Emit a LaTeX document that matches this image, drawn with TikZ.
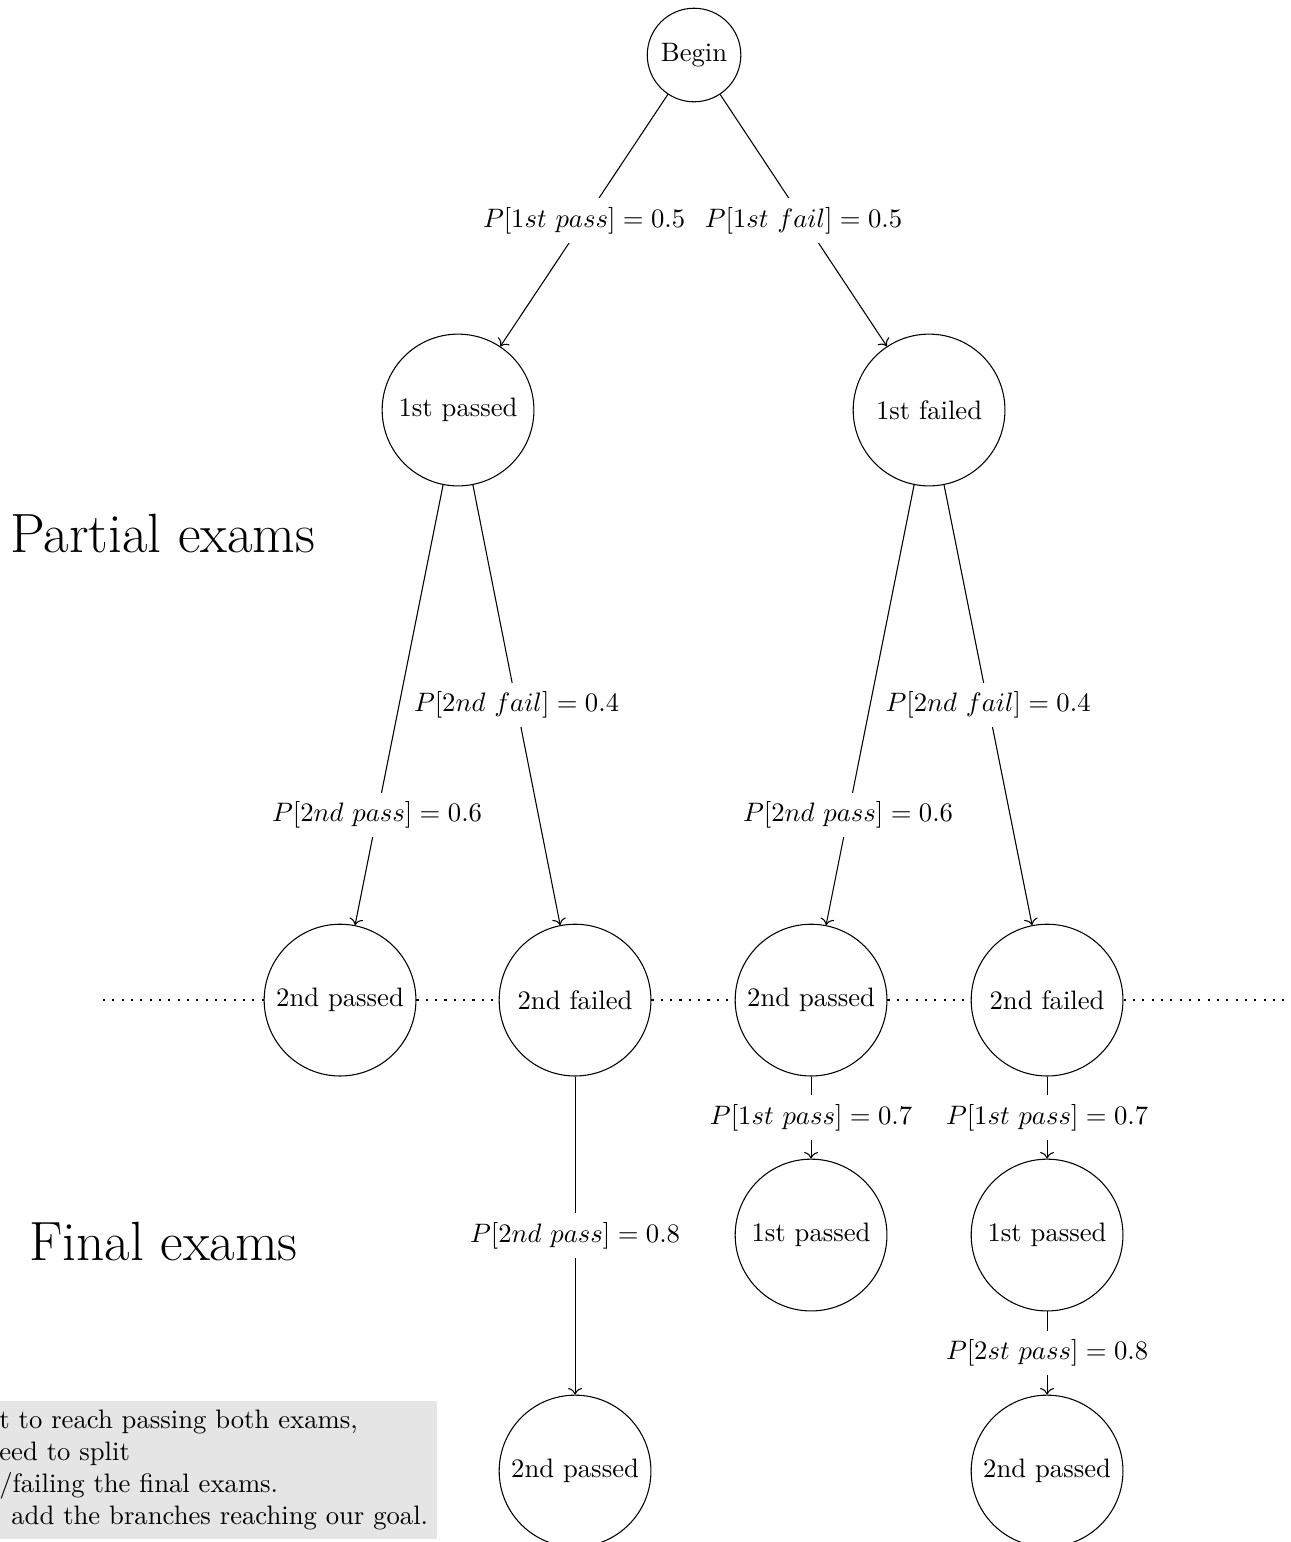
\documentclass[tikz,border=0pt]{standalone}
\usepackage{tikz}
\usetikzlibrary{arrows.meta,positioning}
\tikzset{
  stnode/.style  = {draw, circle, minimum size=2cm},
  begnode/.style = {draw, circle},
  probl/.style   = {fill=white},
  sig/.style     = {-{To}},
  bigtext/.style = {font=\huge},
  notebox/.style = {fill=gray!20, align=left, anchor=west},
  border/.style  = {line width=0.8pt, dash pattern=on 0.8pt off 2.7pt},
}

\begin{document}
\begin{tikzpicture}[x=1cm,y=1cm]
\useasboundingbox (0,0) rectangle (17,-20.32);
% partial exams
\node[begnode] (beg) at (9.146,-0.725) {Begin};
\node[stnode] (p1) at (6.036,-5.403) {1st passed};
\node[stnode] (f1) at (12.243,-5.403) {1st failed};
\node[stnode] (pp) at (4.481,-13.179) {2nd passed};
\node[stnode] (pf) at (7.578,-13.179) {2nd failed};
\node[stnode] (fp) at (10.688,-13.179) {2nd passed};
\node[stnode] (ff) at (13.798,-13.179) {2nd failed};
% final exams
\node[stnode] (fpa) at (10.688,-16.275) {1st passed};
\node[stnode] (ffa) at (13.798,-16.275) {1st passed};
\node[stnode] (pfb) at (7.578,-19.385) {2nd passed};
\node[stnode] (ffb) at (13.798,-19.385) {2nd passed};

\node[bigtext] (lpart) at (2.148,-7.024) {Partial exams};
\node[bigtext] (lfin) at (2.155,-16.355) {Final exams};

\draw[sig] (beg) -- (p1) node[probl,midway]{$P[1st\ pass] = 0.5$};
\draw[sig] (beg) -- (f1) node[probl,midway]{$P[1st\ fail] = 0.5$};
\draw[sig] (p1) -- (pp) node[probl,near end]{$P[2nd\ pass] = 0.6$};
\draw[sig] (p1) -- (pf) node[probl,midway]{$P[2nd\ fail] = 0.4$};
\draw[sig] (f1) -- (fp) node[probl,near end]{$P[2nd\ pass] = 0.6$};
\draw[sig] (f1) -- (ff) node[probl,midway]{$P[2nd\ fail] = 0.4$};
\draw[sig] (fp) -- (fpa) node[probl,midway]{$P[1st\ pass] = 0.7$};
\draw[sig] (ff) -- (ffa) node[probl,midway]{$P[1st\ pass] = 0.7$};
\draw[sig] (pf) -- (pfb) node[probl,midway]{$P[2nd\ pass] = 0.8$};
\draw[sig] (ffa) -- (ffb) node[probl,midway]{$P[2st\ pass] = 0.8$};

% border between partial and final exams
\coordinate (dl) at (1.357,-13.179);
\coordinate (dr) at (16.92,-13.179);
\draw[border] (dl) -- (pp) -- (pf) -- (fp) -- (ff) -- (dr);

\node[notebox] (note) at (-0.132,-19.372) {t to reach passing both exams,\\
  eed to split\\
  /failing the final exams.\\
  \hspace*{4.5pt}add the branches reaching our goal.};
\end{tikzpicture}
\end{document}
